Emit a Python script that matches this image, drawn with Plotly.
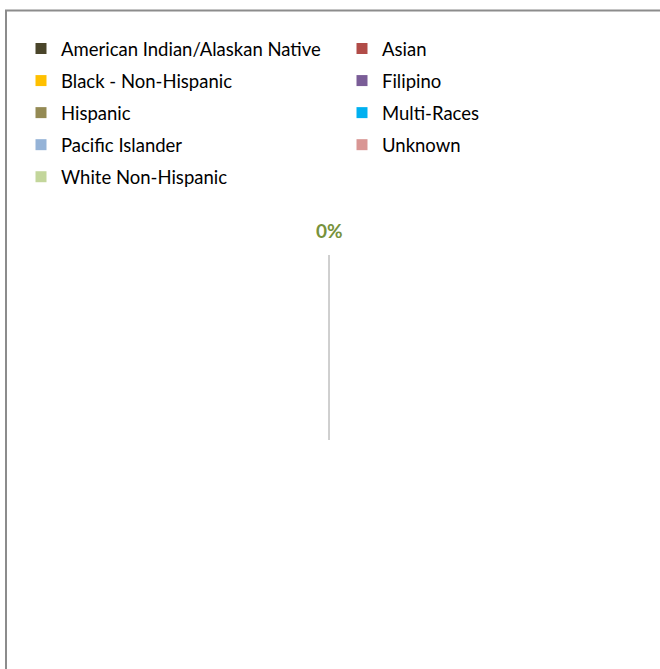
import plotly.graph_objects as go

categories = [
    "American Indian/Alaskan Native",
    "Asian",
    "Black - Non-Hispanic",
    "Filipino",
    "Hispanic",
    "Multi-Races",
    "Pacific Islander",
    "Unknown",
    "White Non-Hispanic",
]
values = [0, 0, 0, 0, 0, 0, 0, 0, 0]
colors = [
    "#4A452A", "#B14C48", "#FFC000", "#7A5D97", "#948A54",
    "#00B0F0", "#95B3D7", "#D99694", "#C3D69B",
]

W, H = 660, 669
# pie geometry (pixels)
cx, cy = 329, 440
label_r = 210
line_r = 185

total = sum(values)
pcts = [(v / total if total else 0) for v in values]

fig = go.Figure()

# the pie itself (all slices are zero so nothing is painted)
fig.add_trace(go.Pie(
    labels=categories, values=values, sort=False, showlegend=False,
    marker=dict(colors=colors), textinfo="none",
    domain=dict(x=[0.25, 0.75], y=[0.0, 0.6]),
))

# legend entries, split in two columns
for i, (name, col) in enumerate(zip(categories, colors)):
    fig.add_trace(go.Scatter(
        x=[None], y=[None], mode="markers", name=name,
        marker=dict(symbol="square", size=11, color=col),
        legend="legend" if i % 2 == 0 else "legend2",
        legendgroup=name,
    ))

# leader line and label for the first (zero) slice, at angle 0 = straight up
fig.add_trace(go.Scatter(
    x=[cx, cx], y=[cy, cy - line_r], mode="lines",
    line=dict(color="#A0A0A0", width=1), showlegend=False, hoverinfo="skip",
))
fig.add_annotation(
    x=cx, y=cy - label_r, text=f"<b>{pcts[4] * 100:.0f}%</b>", showarrow=False,
    font=dict(family="Lato", size=19, color="#77923C"), xanchor="center", yanchor="middle",
)

legend_style = dict(
    font=dict(family="Lato", size=18.5, color="#000000"),
    bgcolor="rgba(0,0,0,0)", yanchor="top", xanchor="left",
    tracegroupgap=5, itemwidth=30,
)
fig.update_layout(
    width=W, height=H,
    margin=dict(l=0, r=0, t=0, b=0),
    paper_bgcolor="#FFFFFF", plot_bgcolor="#FFFFFF",
    xaxis=dict(range=[0, W], visible=False, fixedrange=True),
    yaxis=dict(range=[H, 0], visible=False, fixedrange=True),
    legend=dict(x=21 / W, y=1 - 30 / H, **legend_style),
    legend2=dict(x=342 / W, y=1 - 30 / H, **legend_style),
    shapes=[dict(
        type="rect", xref="paper", yref="paper",
        x0=6 / W, y0=-0.05, x1=1.05, y1=1 - 10.5 / H,
        line=dict(color="#8C8C8C", width=2), fillcolor="rgba(0,0,0,0)",
    )],
)

fig.write_html(
    "out.html",
    config={"displayModeBar": False},
    post_script="document.body.style.margin='0';",
)
